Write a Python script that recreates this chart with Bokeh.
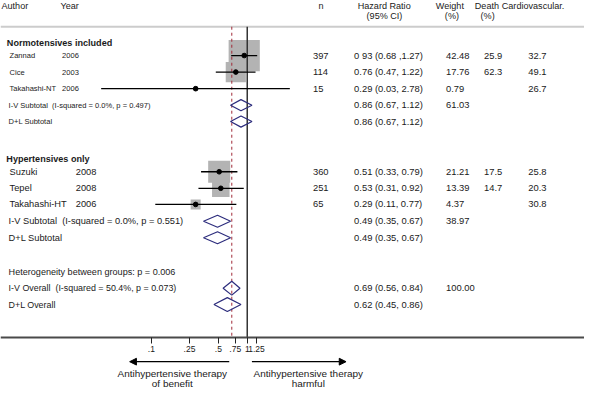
import math
from bokeh.plotting import figure
from bokeh.models import Range1d, LinearScale, FixedTicker, CustomJSTickFormatter, Arrow, NormalHead
from bokeh.core.properties import value
from bokeh.embed import file_html
from bokeh.resources import INLINE

# ---------------- data ----------------
studies = ["Zannad", "Cice", "Takahashi-NT", "Suzuki", "Tepel", "Takahashi-HT"]
years = ["2006", "2003", "2006", "2008", "2008", "2006"]
n_patients = ["397", "114", "15", "360", "251", "65"]
hr = [0.93, 0.76, 0.29, 0.51, 0.53, 0.29]
ci_lo = [0.68, 0.47, 0.03, 0.33, 0.31, 0.11]
ci_hi = [1.27, 1.22, 2.78, 0.79, 0.92, 0.77]
hr_text = ["0 93 (0.68 ,1.27)", "0.76 (0.47, 1.22)", "0.29 (0.03, 2.78)",
           "0.51 (0.33, 0.79)", "0.53 (0.31, 0.92)", "0.29 (0.11, 0.77)"]
weights = [42.48, 17.76, 0.79, 21.21, 13.39, 4.37]
death = ["25.9", "62.3", "", "17.5", "14.7", ""]
cardio = ["32.7", "49.1", "26.7", "25.8", "20.3", "30.8"]

pooled_labels = ["I-V Subtotal \u00a0(I-squared = 0.0%, p = 0.497)", "D+L Subtotal",
                 "I-V Subtotal \u00a0(I-squared = 0.0%, p = 0.551)", "D+L Subtotal",
                 "I-V Overall \u00a0(I-squared = 50.4%, p = 0.073)", "D+L Overall"]
pooled_hr = [0.86, 0.86, 0.49, 0.49, 0.69, 0.62]
pooled_lo = [0.67, 0.67, 0.35, 0.35, 0.56, 0.45]
pooled_hi = [1.12, 1.12, 0.67, 0.67, 0.84, 0.86]
pooled_text = ["0.86 (0.67, 1.12)", "0.86 (0.67, 1.12)", "0.49 (0.35, 0.67)",
               "0.49 (0.35, 0.67)", "0.69 (0.56, 0.84)", "0.62 (0.45, 0.86)"]
pooled_weight = ["61.03", "", "38.97", "", "100.00", ""]

group_titles = ["Normotensives included", "Hypertensives only"]
heterogeneity = "Heterogeneity between groups: p = 0.006"
ref_line_hr = 1.0
overall_hr = 0.69
tick_values = [0.1, 0.25, 0.5, 0.75, 1, 1.25]

# ---------------- layout ----------------
W, H = 584, 390
REF_W, REF_H = 600, 406
S = (W / REF_W + H / REF_H) / 2
FONT = "Liberation Sans"
TXT = "#1a1a1a"
X1 = 253.5      # ref pixel of HR=1
PPU = 42.8      # ref pixels per ln unit

study_y = [57.3, 74.5, 91.8, 178.3, 195.5, 212.3]
pooled_y = [109.0, 126.0, 229.8, 247.0, 299.5, 316.5]
pooled_half = [5.8, 5.8, 6.2, 6.2, 7.2, 7.2]
title_y = [44.5, 165.0]
het_y = 282.3
top_y, axis_y = 27.3, 350.7

p = figure(width=W, height=H, output_backend="svg", toolbar_location=None,
           x_axis_type="log", y_axis_location=None,
           x_range=Range1d(math.exp((0 - X1) / PPU), math.exp((REF_W - X1) / PPU)),
           y_range=Range1d(REF_H, 0), min_border=0)
p.extra_x_ranges = {"px": Range1d(0, REF_W)}
p.extra_x_scales = {"px": LinearScale()}
p.grid.visible = False
p.outline_line_color = None
p.background_fill_color = "white"
p.border_fill_color = "white"

ax = p.xaxis[0]
ax.fixed_location = axis_y
ax.ticker = FixedTicker(ticks=tick_values, minor_ticks=[])
ax.formatter = CustomJSTickFormatter(code="return tick.toString().replace(/^0\\./, '.');")
ax.axis_line_color = "#4a4a4a"
ax.axis_line_width = 1.8
ax.major_tick_in = 0
ax.major_tick_out = 6
ax.major_tick_line_color = "#222222"
ax.major_label_text_font = FONT
ax.major_label_text_font_size = f"{8.8 * S:.2f}px"
ax.major_label_text_color = TXT
ax.major_label_standoff = 3


def txt(xs, ys, texts, size, align="left", bold=False):
    p.text(x=xs, y=ys, text=texts, x_range_name="px",
           text_font=value(FONT), text_font_size=f"{size * S:.2f}px",
           text_align=align, text_baseline="middle", text_color=TXT,
           text_font_style="bold" if bold else "normal")


# separator line
p.segment(x0=[0], y0=[top_y], x1=[REF_W], y1=[top_y], x_range_name="px",
          line_color="#cccccc", line_width=2)

# boxes
box_side = [4.95 * math.sqrt(w) * S for w in weights]
p.rect(x=hr, y=study_y, width=box_side, height=box_side,
       width_units="screen", height_units="screen",
       fill_color="#b3b3b3", line_color=None)

# reference lines
p.segment(x0=[ref_line_hr], y0=[top_y], x1=[ref_line_hr], y1=[axis_y],
          line_color="#333333", line_width=1.5)
p.segment(x0=[overall_hr], y0=[top_y], x1=[overall_hr], y1=[axis_y],
          line_color="#a02a38", line_width=1, line_dash="3 3")

# CIs and points
p.segment(x0=ci_lo, y0=study_y, x1=ci_hi, y1=study_y, line_color="black", line_width=1.3)
p.scatter(x=hr, y=study_y, size=4.8 * S, marker="circle", fill_color="black", line_color="black")

# diamonds
dx = [[lo, m, hi, m] for lo, m, hi in zip(pooled_lo, pooled_hr, pooled_hi)]
dy = [[y, y - h, y, y + h] for y, h in zip(pooled_y, pooled_half)]
p.patches(xs=dx, ys=dy, fill_alpha=0, line_color="#2d2d7d", line_width=1.2)

# header
txt([1.0, 61.7], [5.5, 5.5], ["Author", "Year"], 9.4)
txt([329.3, 394.2, 461.7], [5.5, 5.5, 5.5], ["n", "Hazard Ratio", "Weight"], 9.4, align="center")
txt([487.3, 515.0], [5.5, 5.5], ["Death", "Cardiovascular."], 9.4)
txt([394.5, 463.8, 500.5], [16.5, 16.5, 16.5], ["(95% CI)", "(%)", "(%)"], 9.4, align="center")

# group titles
txt([6.5, 6.0], title_y, group_titles, 9.4, bold=True)

# study labels
txt([9.3] * 3, study_y[:3], studies[:3], 7.8)
txt([63.3] * 3, study_y[:3], years[:3], 7.8)
txt([9.3] * 3, study_y[3:], studies[3:], 9.6)
txt([77.3] * 3, study_y[3:], years[3:], 9.6)

# pooled labels
txt([8.3] * 2, pooled_y[:2], pooled_labels[:2], 7.8)
txt([8.3] * 2, pooled_y[2:4], pooled_labels[2:4], 9.6)
txt([8.3] * 2, pooled_y[4:], pooled_labels[4:], 9.2)
txt([8.3], [het_y], [heterogeneity], 9.4)

# right columns
txt([321.0] * 6, study_y, n_patients, 9.7)
txt([363.3] * 6, study_y, hr_text, 9.7)
txt([457.7] * 6, study_y, ["%.2f" % w for w in weights], 9.7)
txt([496.7] * 6, study_y, death, 9.7)
txt([542.3] * 6, study_y, cardio, 9.7)
txt([363.3] * 6, pooled_y, pooled_text, 9.7)
txt([457.7] * 6, pooled_y, pooled_weight, 9.7)

# arrows and direction labels
arrow_y = 376.0
p.add_layout(Arrow(x_start=235.0, y_start=arrow_y, x_end=132.7, y_end=arrow_y,
                   x_range_name="px", line_color="black", line_width=1.2,
                   end=NormalHead(size=7 * S, fill_color="black", line_color="black")))
p.add_layout(Arrow(x_start=258.3, y_start=arrow_y, x_end=355.0, y_end=arrow_y,
                   x_range_name="px", line_color="black", line_width=1.2,
                   end=NormalHead(size=7 * S, fill_color="black", line_color="black")))
txt([176.5, 176.5], [388.0, 399.0], ["Antihypertensive therapy", "of benefit"], 10.3, align="center")
txt([316.2, 316.2], [388.0, 399.0], ["Antihypertensive therapy", "harmful"], 10.3, align="center")

open("out.html", "w").write(file_html(p, INLINE))
